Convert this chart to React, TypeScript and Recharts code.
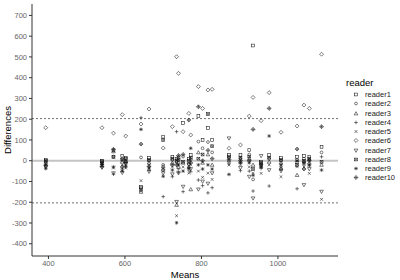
import { ScatterChart, Scatter, XAxis, YAxis, ReferenceLine, Label } from "recharts";

const FONT = "'Liberation Sans', Arial, sans-serif";

const cases = [393, 540, 570, 593, 602, 642, 663, 700, 724, 735, 740, 752, 767, 772, 792, 803, 817, 828, 872, 902, 925, 935, 956, 977, 1008, 1050, 1068, 1082, 1114];

const reader1 = [5, 0, 50, 24, 13, -125, 13, 116, 19, 10, 15, 182, 10, 27, 215, 100, 158, 100, 27, 27, 51, 555, -5, 27, 13, 19, 23, 19, 67];
const reader2 = [-5, -8, 20, 10, -5, 16, 0, -20, 5, -5, -10, 20, -15, 5, 92, 60, 90, 40, 15, 10, 30, -90, -15, 10, 0, 5, 10, 5, 40];
const reader3 = [-10, -12, 45, -5, 0, -150, -10, -28, -10, -213, -30, -10, -30, -138, 40, -10, 30, -20, 0, -5, 10, -20, -25, -5, -10, -69, -5, -10, -20];
const reader4 = [-20, -18, -65, -40, -30, 207, -45, -173, -77, 140, -55, -149, -45, -53, -93, -120, -155, -130, -15, -48, -50, -146, -37, -122, -30, -135, -20, -25, 19];
const reader5 = [-15, -25, -35, -20, -35, -96, -20, -35, -30, -265, -40, -30, -60, -20, -50, -80, -60, -90, -21, -20, -30, -60, -61, -20, -77, -29, -30, -61, -186];
const reader6 = [159, 159, 133, 222, 119, 177, 249, 61, 164, 501, 421, 140, 228, 124, 357, 252, 341, 344, 60, 76, 215, 305, 193, 328, 137, 167, 268, 252, 513];
const reader7 = [-30, -33, -60, -58, -15, -132, -53, -60, -65, -198, -60, -125, -20, -40, -138, -100, -110, -60, 108, -35, -77, -181, 23, -45, -50, -10, -117, -40, -149];
const reader8 = [0, -3, 18, 5, 8, -140, 5, 100, 10, 0, 5, -5, 0, 15, 10, 30, 225, 70, 20, 15, 20, -40, -10, 15, 5, -20, 0, 10, -5];
const reader9 = [-38, -15, -30, -50, -25, 151, -35, -75, -45, -299, -20, -50, -35, 60, -20, -40, -20, -40, -66, -10, -10, -70, -30, 119, -20, 0, -10, -20, -45];
const reader10 = [-25, -28, 55, -30, -10, 80, -28, -45, -20, -20, 25, 30, 196, -10, 260, 0, 50, 10, 5, 0, 0, 151, -20, 252, -40, 56, -40, 0, 164];

const readers = [reader1, reader2, reader3, reader4, reader5, reader6, reader7, reader8, reader9, reader10];
const readerNames = ["reader1", "reader2", "reader3", "reader4", "reader5", "reader6", "reader7", "reader8", "reader9", "reader10"];

const xTicks = [400, 600, 800, 1000];
const yTicks = [-400, -300, -200, -100, 0, 100, 200, 300, 400, 500, 600, 700];
const upperLimit = 203;
const lowerLimit = -203;

// ggplot shapes 0..9, drawn small
function Glyph({ kind, cx, cy }: { kind: number; cx: number; cy: number }) {
  const s = 1.4;
  const p = { fill: "none", stroke: "#111", strokeWidth: 0.55 };
  const sq = <rect x={cx - s} y={cy - s} width={2 * s} height={2 * s} {...p} />;
  const plus = <path d={`M${cx - s * 1.3},${cy}H${cx + s * 1.3}M${cx},${cy - s * 1.3}V${cy + s * 1.3}`} {...p} />;
  const cross = <path d={`M${cx - s},${cy - s}L${cx + s},${cy + s}M${cx - s},${cy + s}L${cx + s},${cy - s}`} {...p} />;
  const dia = <path d={`M${cx},${cy - s * 1.4}L${cx + s * 1.4},${cy}L${cx},${cy + s * 1.4}L${cx - s * 1.4},${cy}Z`} {...p} />;
  switch (kind) {
    case 0: return sq;
    case 1: return <circle cx={cx} cy={cy} r={s} {...p} />;
    case 2: return <path d={`M${cx},${cy - s * 1.3}L${cx + s * 1.3},${cy + s}L${cx - s * 1.3},${cy + s}Z`} {...p} />;
    case 3: return plus;
    case 4: return cross;
    case 5: return dia;
    case 6: return <path d={`M${cx},${cy + s * 1.3}L${cx + s * 1.3},${cy - s}L${cx - s * 1.3},${cy - s}Z`} {...p} />;
    case 7: return <g>{sq}{cross}</g>;
    case 8: return <g>{plus}{cross}</g>;
    default: return <g>{dia}{plus}</g>;
  }
}

export default function App() {
  return (
    <div style={{ position: "absolute", left: 0, top: 0, width: 400, height: 280, background: "#fff", fontFamily: FONT }}>
      <ScatterChart width={400} height={280} margin={{ top: 4, right: 62, bottom: 0, left: 0 }}>
        <XAxis type="number" dataKey="x" domain={[357, 1157]} ticks={xTicks} allowDataOverflow
          height={24} tickSize={3} stroke="#333" tick={{ fill: "#666", fontSize: 7.5, fontFamily: FONT }}>
          <Label value="Means" position="insideBottom" offset={0} dy={-2} style={{ fill: "#000", fontSize: 9.5, fontFamily: FONT }} />
        </XAxis>
        <YAxis type="number" dataKey="y" domain={[-459, 755]} ticks={yTicks} allowDataOverflow
          width={32} tickSize={3} stroke="#333" tick={{ fill: "#666", fontSize: 7.5, fontFamily: FONT }}>
          <Label content={() => (
            <text x={11} y={130} transform="rotate(-90 11 130)" textAnchor="middle" fill="#000" fontSize={9.5} fontFamily={FONT}>Differences</text>
          )} />
        </YAxis>
        <ReferenceLine y={0} stroke="#c4c4c4" strokeWidth={2} />
        <ReferenceLine y={upperLimit} stroke="#333" strokeWidth={0.7} strokeDasharray="2 2" />
        <ReferenceLine y={lowerLimit} stroke="#333" strokeWidth={0.7} strokeDasharray="2 2" />
        {readers.map((vals, k) => (
          <Scatter key={readerNames[k]} name={readerNames[k]} isAnimationActive={false}
            data={cases.map((x, i) => ({ x, y: vals[i] }))}
            shape={(props: any) => <Glyph kind={k} cx={props.cx} cy={props.cy} />} />
        ))}
      </ScatterChart>
      <div style={{ position: "absolute", left: 346, top: 77, fontSize: 9.5, color: "#000" }}>reader</div>
      {readerNames.map((n, k) => (
        <div key={n} style={{ position: "absolute", left: 351, top: 90 + k * 9.27, height: 9, display: "flex", alignItems: "center" }}>
          <svg width={10} height={9}><Glyph kind={k} cx={5} cy={4.5} /></svg>
          <span style={{ marginLeft: 4, fontSize: 7.5, color: "#222" }}>{n}</span>
        </div>
      ))}
    </div>
  );
}
